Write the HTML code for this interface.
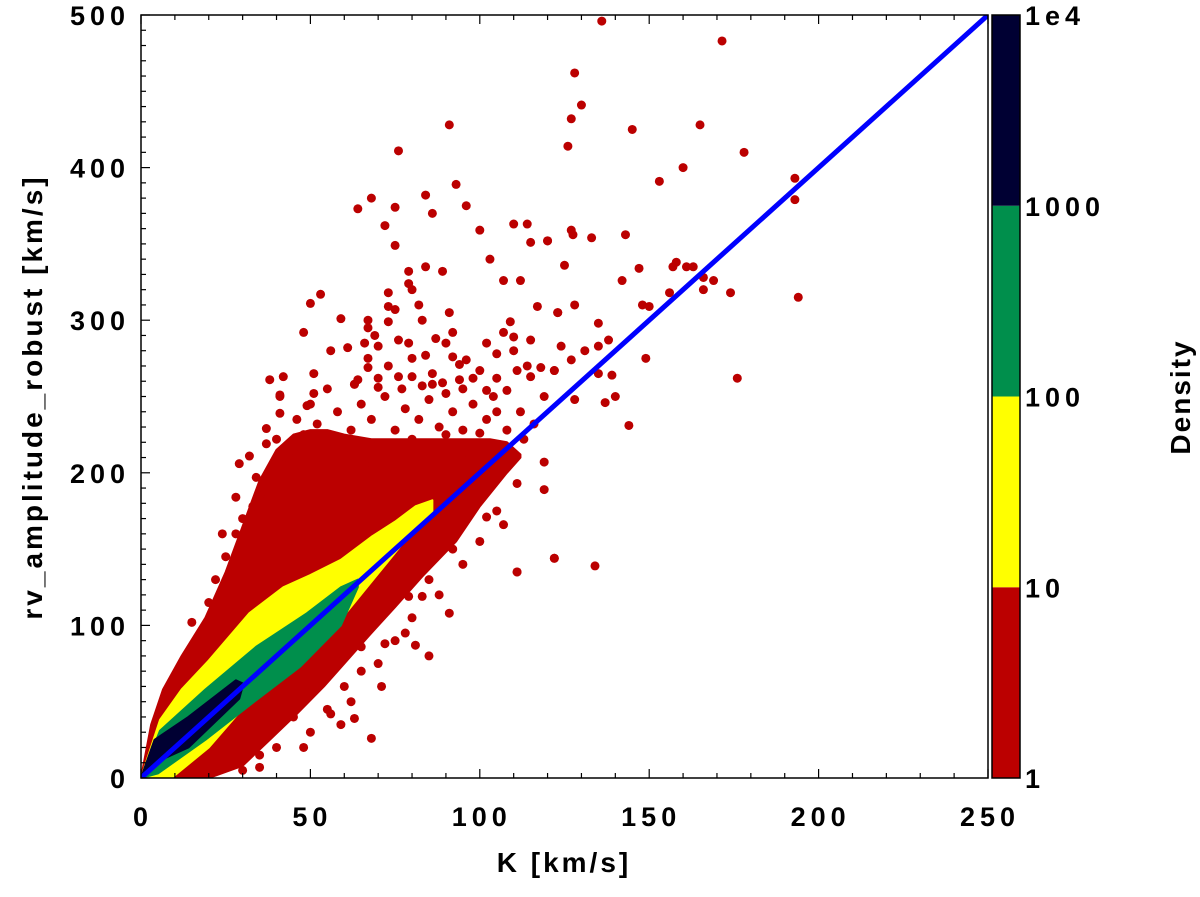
<!DOCTYPE html>
<html><head><meta charset="utf-8"><style>
body{margin:0;background:#fff}
svg text{font-family:"Liberation Sans",sans-serif;font-weight:bold;fill:#000}
</style></head><body>
<svg width="1200" height="892" id="c">
<defs><clipPath id="clip"><rect x="141" y="15" width="847" height="763"/></clipPath></defs>
<g id="plot" clip-path="url(#clip)"></g>
<g id="axes"></g>
<g id="cbar"></g>
</svg>
<script>
const xTicks=[0,50,100,150,200,250];
const yTicks=[0,100,200,300,400,500];
const cbLabels=["1","10","100","1000","1e4"];
const cbColors=["#bb0000","#ffff00","#008f4c","#000033"];
const redHiK=[0,3,6.5,12,19,25,30,35,40,45,50,55,60,68,78,88,96,103,108,112];
const redHi=[0,35,58,80,105,135,165,195,215,225,228,228,225,222,222,222,222,222,220,212];
const redLoK=[0,20,30,38,46,54,60,68,75,83,93,100,108,112];
const redLo=[0,0,8,25,42,60,75,95,112,132,155,178,200,210];
const yelHiK=[0,5.6,12,20,32,42,50,59,68,75,81,86];
const yelHi=[0,38,58,77,108,125,133,143,158,168,178,182];
const yelLoK=[0,9,20,29,44,59,70,81,86];
const yelLo=[0,0,20,43,69,104,134,164,172];
const grnHiK=[0,5.6,19,34,49,59,64];
const grnHi=[0,31,58,86,108,125,130];
const grnLoK=[0,5,19,34,47,59,64];
const grnLo=[0,3,25,51,73,100,125];
const drkHiK=[0,4,14,28,30];
const drkHi=[0,25,40,64,62];
const drkLoK=[0,4,14,29,30];
const drkLo=[0,10,20,52,60];
const ptsK=[136,171.5,128,130,127,126,145,165,178,160,153,193,193,127,127.5,120,133,143,125,147,142,158,157,161,163,166,169,166,174,194,156,128,123,148,150,135,138,124,135,131,127,149,122,135,139,176,128,140,137,144,134,122,111,
91,76,93,68,64,75,84,86,96,72,100,110,114,115,120,75,103,84,79,89,107,112,79,80,73,53,50,73,75,82,117,123,91,59,67,73,83,109,48,67,92,107,69,110,56,61,66,70,76,79,87,90,102,115,105,67,80,84,92,96,110,38,42,51,67,73,94,100,111,114,118,122,76,80,86,64,70,94,115,41,51,63,83,89,98,105,102,108,90,119,
107,111,122,91,81,85,71,68,63,59,56,48,35,119,119,111,102,96,83,79,67,65,59,49,29,24,20,15,34,32,37,37,28,41,46,41,49,
45,48,52,55,58,62,65,68,72,75,78,82,85,88,92,95,98,102,105,108,60,70,80,90,100,42,38,35,40,50,55,63,70,77,86,95,104,112,116,113,30,28,25,22,33,47,53,66,82,97,
45,50,55,60,65,70,75,80,88,95,100,105,40,30,35,62,72,85,92,78];
const ptsR=[496,483,462,441,432,414,425,428,410,400,391,393,379,359,356,352,354,356,336,334,326,338,335,335,335,328,326,320,318,315,318,310,305,310,309,298,287,283,283,280,274,275,267,265,264,262,248,250,246,231,139,144,135,
428,411,389,380,373,374,382,370,375,362,359,363,363,351,352,349,340,335,332,332,326,326,324,320,318,317,311,309,307,310,309,305,305,301,300,299,300,299,292,295,292,292,290,289,280,282,285,283,287,285,288,285,285,287,278,275,275,277,276,274,280,261,263,265,269,270,271,267,267,270,269,267,263,263,265,261,262,261,263,251,252,258,257,259,262,262,254,254,252,250,
166,135,144,108,87,80,60,26,39,35,42,20,7,189,207,193,171,178,119,119,103,86,82,56,206,160,115,102,197,211,219,229,184,239,235,250,244,
215,225,232,220,240,228,245,235,250,228,242,235,248,230,240,228,245,235,240,228,212,218,222,225,226,205,195,185,222,245,255,258,256,255,258,255,250,240,232,222,170,160,145,130,178,205,210,205,205,212,
40,30,45,60,70,75,90,105,120,140,155,175,20,5,15,50,88,130,150,95];
const X0=141,X1=988,Y0=778,Y1=15;
const sx=k=>X0+k/250*(X1-X0), sy=v=>Y0-v/500*(Y0-Y1);
const NS="http://www.w3.org/2000/svg";
function mk(t,a,p){const e=document.createElementNS(NS,t);for(const k in a)e.setAttribute(k,a[k]);p.appendChild(e);return e;}
const plot=document.getElementById('plot'),axes=document.getElementById('axes'),cbar=document.getElementById('cbar');
function band(KH,H,KL,L,col,name){let s=KH.map((k,i)=>sx(k)+','+sy(H[i]));for(let i=KL.length-1;i>=0;i--)s.push(sx(KL[i])+','+sy(L[i]));
const p=mk('polygon',{points:s.join(' '),fill:col,stroke:col,'stroke-width':2,'stroke-linejoin':'round'},plot);

}
band(redHiK,redHi,redLoK,redLo,cbColors[0],'density-band-1-10');
ptsK.forEach((k,i)=>{const c=mk('circle',{cx:sx(k),cy:sy(ptsR[i]),r:4.5,fill:cbColors[0]},plot);

});
band(yelHiK,yelHi,yelLoK,yelLo,cbColors[1],'density-band-10-100');
band(grnHiK,grnHi,grnLoK,grnLo,cbColors[2],'density-band-100-1000');
band(drkHiK,drkHi,drkLoK,drkLo,cbColors[3],'density-band-1000-1e4');
const ln=mk('line',{x1:sx(0),y1:sy(0),x2:sx(250),y2:sy(500),stroke:'#0000ff','stroke-width':5},plot);


const fr=mk('rect',{x:X0,y:Y1,width:X1-X0,height:Y0-Y1,fill:'none',stroke:'#000','stroke-width':1.5},axes);


for(let k=0;k<=250;k+=10){const maj=k%50==0;mk('line',{x1:sx(k),y1:Y0,x2:sx(k),y2:Y0-(maj?9:5),stroke:'#000','stroke-width':1.2},axes);mk('line',{x1:sx(k),y1:Y1,x2:sx(k),y2:Y1+(maj?9:5),stroke:'#000','stroke-width':1.2},axes);}
for(let v=0;v<=500;v+=10){const maj=v%100==0;mk('line',{x1:X0,y1:sy(v),x2:X0+(maj?9:5),y2:sy(v),stroke:'#000','stroke-width':1.2},axes);}
xTicks.forEach(k=>{const t=mk('text',{x:sx(k)+2,y:826,'text-anchor':'middle','font-size':27,'letter-spacing':5},axes);t.textContent=k;

});
yTicks.forEach(v=>{const t=mk('text',{x:130,y:sy(v)+10,'text-anchor':'end','font-size':27,'letter-spacing':5},axes);t.textContent=v;

});
const xt=mk('text',{x:564,y:872,'text-anchor':'middle','font-size':28,'letter-spacing':3},axes);xt.textContent='K [km/s]';


const yt=mk('text',{x:0,y:0,'text-anchor':'middle','font-size':28,'letter-spacing':3,transform:'translate(42,397) rotate(-90)'},axes);yt.textContent='rv_amplitude_robust [km/s]';


const CX=992,CW=28,seg=(Y0-Y1)/4;
cbColors.forEach((c,i)=>{const r=mk('rect',{x:CX,y:Y0-(i+1)*seg,width:CW,height:seg,fill:c},cbar);

});
mk('rect',{x:CX,y:Y1,width:CW,height:Y0-Y1,fill:'none',stroke:'#000','stroke-width':1.5},cbar);
cbLabels.forEach((l,i)=>{const t=mk('text',{x:1025,y:Y0-i*seg+10,'font-size':27,'letter-spacing':5},cbar);t.textContent=l;

});
const dt=mk('text',{x:0,y:0,'text-anchor':'middle','font-size':28,'letter-spacing':2,transform:'translate(1190,397) rotate(-90)'},cbar);dt.textContent='Density';


</script>
</body></html>
